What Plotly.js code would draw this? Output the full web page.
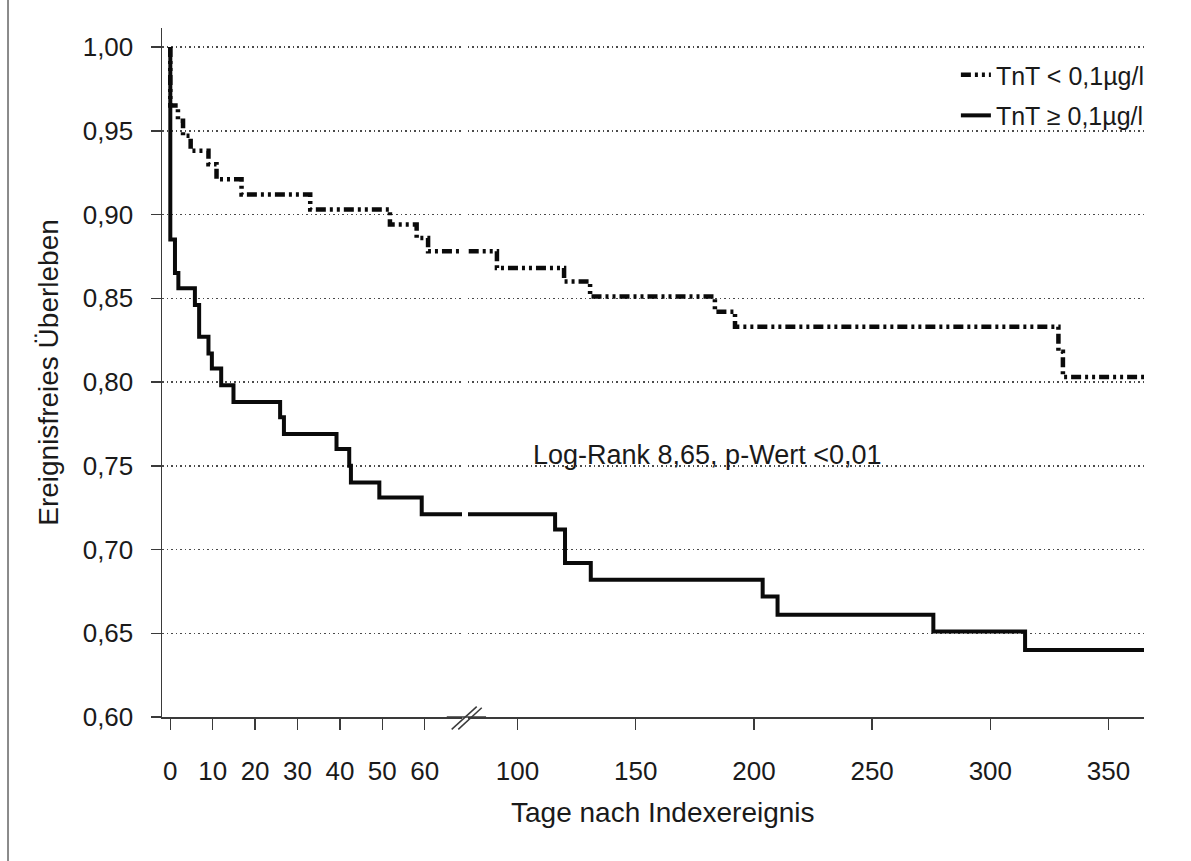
<!DOCTYPE html>
<html>
<head>
<meta charset="utf-8">
<script src="https://cdn.plot.ly/plotly-3.0.1.min.js"></script>
<style>
  html, body { margin: 0; padding: 0; background: #ffffff; }
  #chart { width: 1191px; height: 861px; }
</style>
</head>
<body>
<div id="chart"></div>
<script>
// ---- Data ----
const daysLow = [0, 0, 1.8, 3.0, 4.8, 9.0, 10.9, 16.8, 33.0, 51.8, 58.1, 60.8, 91.3, 119.7, 130.7, 183.5, 192.0, 328.8, 330.7, 365];
const survLow = [1.000, 0.965, 0.956, 0.947, 0.938, 0.930, 0.921, 0.912, 0.903, 0.894, 0.886, 0.878, 0.868, 0.860, 0.851, 0.842, 0.833, 0.818, 0.803, 0.803];

const daysHigh = [0, 0, 1.1, 1.9, 5.8, 6.8, 9.0, 9.8, 12.0, 14.9, 25.9, 26.8, 39.2, 42.2, 42.6, 49.3, 59.3, 115.9, 120.1, 131.0, 203.7, 210.0, 275.9, 314.7, 365];
const survHigh = [1.000, 0.885, 0.865, 0.856, 0.846, 0.827, 0.817, 0.808, 0.798, 0.788, 0.779, 0.769, 0.760, 0.750, 0.740, 0.731, 0.721, 0.712, 0.692, 0.682, 0.672, 0.661, 0.651, 0.640, 0.640];

const nameLow = 'TnT < 0,1µg/l';
const nameHigh = 'TnT ≥ 0,1µg/l';

const xTicksEarly = [0, 10, 20, 30, 40, 50, 60];
const xTicksLate = [100, 150, 200, 250, 300, 350];
const yTicks = [0.60, 0.65, 0.70, 0.75, 0.80, 0.85, 0.90, 0.95, 1.00];

const xTitle = 'Tage nach Indexereignis';
const yTitle = 'Ereignisfreies Überleben';
const statText = 'Log-Rank 8,65, p-Wert <0,01';

// ---- Styling ----
const FONT = 'Liberation Sans, Arial, Helvetica, sans-serif';
const AX = '#3a3a3a';
const dashLow = '10px,4px,3px,4px,3px,4px';

function lineTrace(x, y, xa, name, dash, width, showLeg) {
  return {
    type: 'scatter', mode: 'lines', x: x, y: y, xaxis: xa, yaxis: 'y',
    name: name, legendgroup: name, showlegend: showLeg,
    line: { shape: 'hv', color: '#0a0a0a', width: width, dash: dash },
    hoverinfo: 'skip'
  };
}

const traces = [
  lineTrace(daysLow, survLow, 'x', nameLow, dashLow, 4.5, false),
  lineTrace(daysLow, survLow, 'x2', nameLow, dashLow, 4.5, true),
  lineTrace(daysHigh, survHigh, 'x', nameHigh, 'solid', 4, false),
  lineTrace(daysHigh, survHigh, 'x2', nameHigh, 'solid', 4, true)
];

const xCommon = {
  anchor: 'y', ticks: 'outside', ticklen: 11, tickwidth: 1.5, tickcolor: AX,
  showline: true, linecolor: AX, linewidth: 1.5, showgrid: false, zeroline: false,
  tickfont: { family: FONT, size: 26, color: '#1a1a1a' }, ticklabelstandoff: 19,
  fixedrange: true
};

const layout = {
  width: 1191, height: 861,
  margin: { l: 162, r: 47, t: 28, b: 144 },
  paper_bgcolor: '#ffffff', plot_bgcolor: '#ffffff',
  separators: ',.',
  font: { family: FONT, color: '#1a1a1a' },
  xaxis: Object.assign({}, xCommon, { domain: [0, 0.3055], range: [-1.96, 68.8], tickmode: 'array', tickvals: xTicksEarly }),
  xaxis2: Object.assign({}, xCommon, { domain: [0.3116, 1], range: [79.06, 365], tickmode: 'array', tickvals: xTicksLate }),
  yaxis: {
    domain: [0, 1], range: [0.6, 1.01134], tickmode: 'array', tickvals: yTicks, tickformat: '.2f',
    ticks: 'outside', ticklen: 10, tickwidth: 1.5, tickcolor: AX,
    showline: true, linecolor: AX, linewidth: 1.5, zeroline: false,
    showgrid: true, gridcolor: '#4a4a4a', gridwidth: 1.5, griddash: '1.5px,3px',
    tickfont: { family: FONT, size: 26, color: '#1a1a1a' }, ticklabelstandoff: 12,
    title: { text: yTitle, font: { family: FONT, size: 28, color: '#1a1a1a' }, standoff: 16 },
    fixedrange: true
  },
  showlegend: true,
  legend: {
    x: 1.006, xanchor: 'right', y: 0.965, yanchor: 'top',
    bgcolor: 'rgba(255,255,255,0)', borderwidth: 0,
    font: { family: FONT, size: 25, color: '#1a1a1a' },
    traceorder: 'grouped', tracegroupgap: 5
  },
  shapes: [
    // continuous axis line across the break
    { type: 'line', xref: 'paper', yref: 'paper', x0: 0.29, x1: 0.33, y0: 0, y1: 0, line: { color: AX, width: 1.5 } },
    // break marks //
    { type: 'line', xref: 'paper', yref: 'paper', x0: 0.2950, y0: -0.0179, x1: 0.3205, y1: 0.0150, line: { color: AX, width: 1.5 } },
    { type: 'line', xref: 'paper', yref: 'paper', x0: 0.3017, y0: -0.0179, x1: 0.3256, y1: 0.0135, line: { color: AX, width: 1.5 } },
    // page border at left
    { type: 'line', xref: 'paper', yref: 'paper', x0: -0.1568, x1: -0.1568, y0: -0.209, y1: 1.0406, line: { color: '#8a8a8a', width: 2 } }
  ],
  annotations: [
    { text: xTitle, xref: 'paper', yref: 'paper', x: 0.5102, y: -0.1379, xanchor: 'center', yanchor: 'middle', showarrow: false, font: { family: FONT, size: 28, color: '#1a1a1a' } },
    { text: statText, xref: 'paper', yref: 'paper', x: 0.555, y: 0.380, xanchor: 'center', yanchor: 'middle', showarrow: false, font: { family: FONT, size: 27, color: '#1a1a1a' } }
  ]
};

Plotly.newPlot('chart', traces, layout, { displayModeBar: false, staticPlot: true });
</script>
</body>
</html>
